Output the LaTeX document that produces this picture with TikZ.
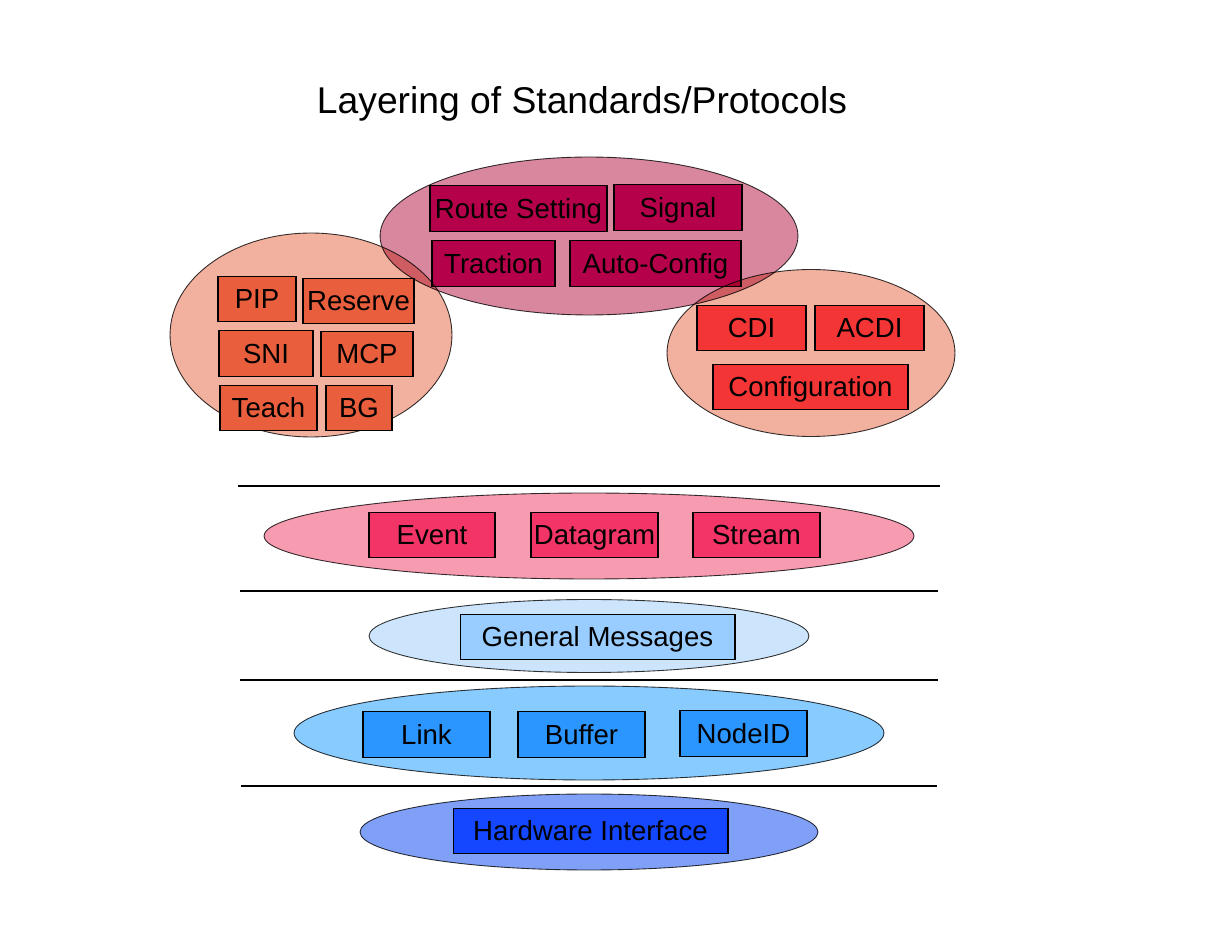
\documentclass[tikz,border=0pt]{standalone}
\usepackage{fontspec}
\setmainfont{Liberation Sans}
\usetikzlibrary{shapes.geometric}

\definecolor{topGroup}{HTML}{D9879F}
\definecolor{topBox}{HTML}{B5004A}
\definecolor{sideGroup}{HTML}{F2B09E}
\definecolor{leftBox}{HTML}{E95F3E}
\definecolor{rightBox}{HTML}{F33535}
\definecolor{msgGroup}{HTML}{F79BB0}
\definecolor{msgBox}{HTML}{F23466}
\definecolor{genGroup}{HTML}{CCE5FC}
\definecolor{genBox}{HTML}{99CCFF}
\definecolor{linkGroup}{HTML}{88CCFF}
\definecolor{linkBox}{HTML}{2B96FF}
\definecolor{hwGroup}{HTML}{80A0F8}
\definecolor{hwBox}{HTML}{1447FF}

\begin{document}
\begin{tikzpicture}[
    x=0.02cm, y=-0.02cm,
    every node/.style={align=center},
    group/.style={ellipse, draw=black!80, line width=0.5pt, inner sep=0pt, blend mode=multiply},
    proto/.style={rectangle, draw=black, line width=0.6pt, minimum height=0.91cm, inner sep=1pt, text height=11.2pt, text depth=0pt, font=\fontsize{15.7}{18}\selectfont},
    title/.style={font=\fontsize{21.2}{25}\selectfont},
    layer/.style={line width=1.2pt}
]
    \useasboundingbox (0,0) rectangle (1232,952);

    % Title
    \node[title] (heading) at (582,104) {Layering of Standards/Protocols};

    % Top group
    \node[group, fill=topGroup, minimum width=8.36cm, minimum height=3.16cm] (topset) at (589,236) {};
    \node[proto, fill=topBox, minimum width=3.54cm] (route) at (518.5,208.5) {Route Setting};
    \node[proto, fill=topBox, minimum width=2.56cm] (signal) at (678,207.5) {Signal};
    \node[proto, fill=topBox, minimum width=2.46cm] (traction) at (493.5,263.5) {Traction};
    \node[proto, fill=topBox, minimum width=3.42cm] (autoconfig) at (655.5,263.5) {Auto-Config};

    % Right group
    \node[group, fill=sideGroup, minimum width=5.76cm, minimum height=3.34cm] (rightset) at (811,353) {};
    \node[proto, fill=rightBox, minimum width=2.18cm] (cdi) at (751.5,328) {CDI};
    \node[proto, fill=rightBox, minimum width=2.18cm] (acdi) at (869.5,328) {ACDI};
    \node[proto, fill=rightBox, minimum width=3.9cm] (config) at (810.5,387) {Configuration};

    % Left group
    \node[group, fill=sideGroup, minimum width=5.64cm, minimum height=4.08cm] (leftset) at (311,335) {};
    \node[proto, fill=leftBox, minimum width=1.56cm] (pip) at (257,299) {PIP};
    \node[proto, fill=leftBox, minimum width=2.22cm] (reserve) at (358.5,301) {Reserve};
    \node[proto, fill=leftBox, minimum width=1.88cm] (sni) at (266,353.5) {SNI};
    \node[proto, fill=leftBox, minimum width=1.84cm] (mcp) at (367,354) {MCP};
    \node[proto, fill=leftBox, minimum width=1.94cm] (teach) at (268.5,408) {Teach};
    \node[proto, fill=leftBox, minimum width=1.32cm] (bg) at (359,408) {BG};

    % Layer separators
    \coordinate (sepAw) at (238,486);  \coordinate (sepAe) at (940,486);
    \coordinate (sepBw) at (240,591);  \coordinate (sepBe) at (938,591);
    \coordinate (sepCw) at (240,680);  \coordinate (sepCe) at (938,680);
    \coordinate (sepDw) at (241,786);  \coordinate (sepDe) at (937,786);
    \draw[layer] (sepAw) -- (sepAe);
    \draw[layer] (sepBw) -- (sepBe);
    \draw[layer] (sepCw) -- (sepCe);
    \draw[layer] (sepDw) -- (sepDe);

    % Transport layer
    \node[group, fill=msgGroup, minimum width=13cm, minimum height=1.72cm] (transport) at (589,536) {};
    \node[proto, fill=msgBox, minimum width=2.52cm] (event) at (432,535) {Event};
    \node[proto, fill=msgBox, minimum width=2.54cm] (datagram) at (594.5,535) {Datagram};
    \node[proto, fill=msgBox, minimum width=2.54cm] (stream) at (756.5,535) {Stream};

    % Message layer
    \node[group, fill=genGroup, minimum width=8.8cm, minimum height=1.46cm] (messages) at (589,636) {};
    \node[proto, fill=genBox, minimum width=5.5cm] (general) at (597.5,637) {General Messages};

    % Link layer
    \node[group, fill=linkGroup, minimum width=11.8cm, minimum height=1.88cm] (linklayer) at (589,733) {};
    \node[proto, fill=linkBox, minimum width=2.54cm] (link) at (426.5,734.5) {Link};
    \node[proto, fill=linkBox, minimum width=2.54cm] (buffer) at (581.5,734.5) {Buffer};
    \node[proto, fill=linkBox, minimum width=2.54cm] (nodeid) at (743.5,733.5) {NodeID};

    % Physical layer
    \node[group, fill=hwGroup, minimum width=9.16cm, minimum height=1.52cm] (physical) at (589,832) {};
    \node[proto, fill=hwBox, minimum width=5.5cm] (hardware) at (590.5,831) {Hardware Interface};
\end{tikzpicture}
\end{document}
